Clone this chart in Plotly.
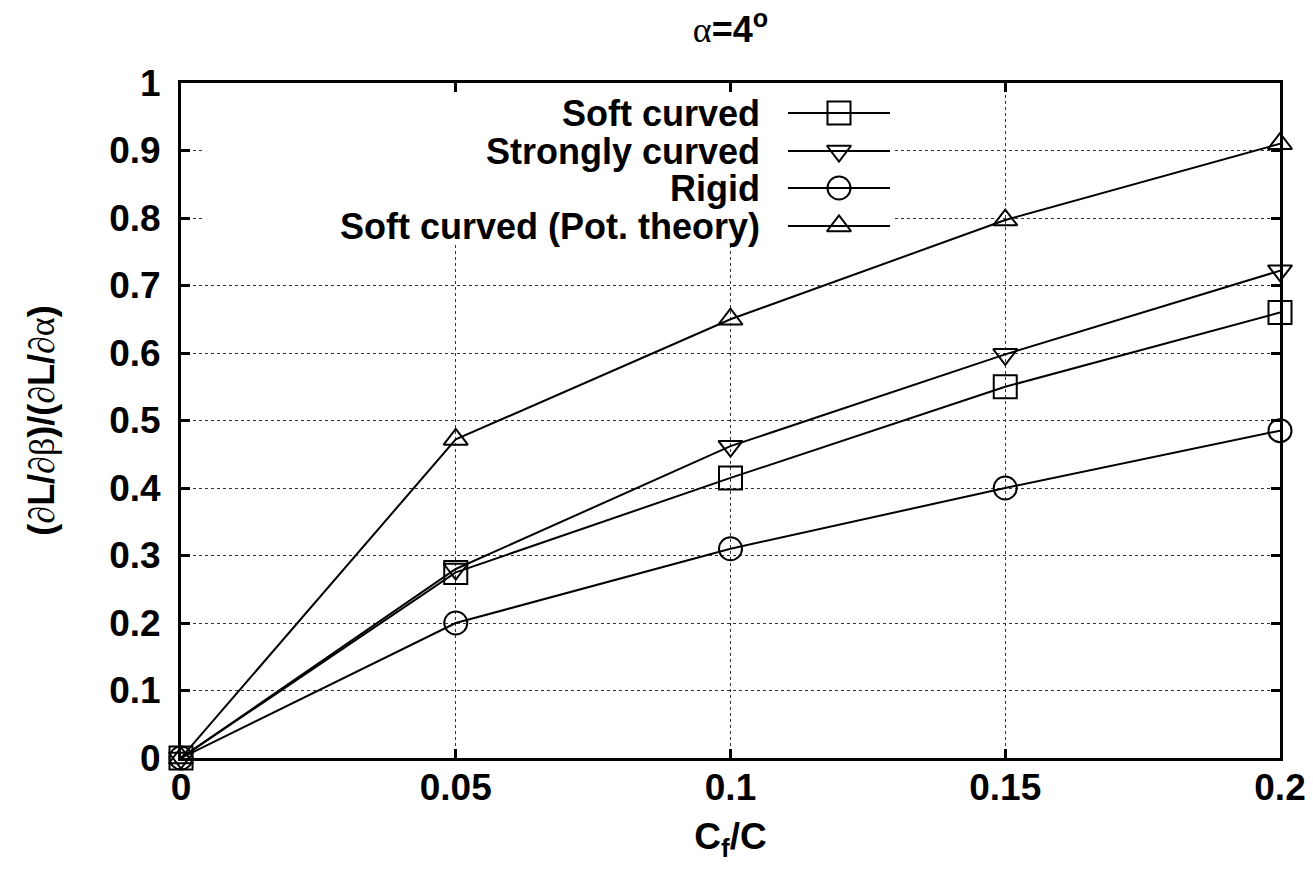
import plotly.graph_objects as go

# Flap chord ratio and lift-derivative ratio for each configuration
cf_c = [0, 0.05, 0.1, 0.15, 0.2]
soft_curved = [0, 0.275, 0.415, 0.55, 0.66]
strongly_curved = [0, 0.28, 0.462, 0.598, 0.722]
rigid = [0, 0.2, 0.31, 0.40, 0.485]
soft_pot_theory = [0, 0.472, 0.65, 0.797, 0.91]

series_names = ["Soft curved", "Strongly curved", "Rigid", "Soft curved (Pot. theory)"]
series_values = [soft_curved, strongly_curved, rigid, soft_pot_theory]
symbols = ["square-open", "triangle-down-open", "circle-open", "triangle-up-open"]
sizes = [23, 21, 23, 21]

SANS = "Liberation Sans, Arial, sans-serif"
SERIF = "Liberation Serif, Times New Roman, serif"
GREEK = f"<span style='font-family:{SERIF};font-weight:normal'>%s</span>"

# plot area in pixels
L, R, T, B = 181, 33, 83, 114
W, H = 1313, 872
PW, PH = W - L - R, H - T - B

fig = go.Figure()

for name, vals, sym, sz in zip(series_names, series_values, symbols, sizes):
    fig.add_trace(go.Scatter(
        x=cf_c, y=vals, mode="lines+markers", name=name, showlegend=False,
        cliponaxis=False,
        line=dict(color="black", width=2),
        marker=dict(symbol=sym, size=sz, color="black", line=dict(width=2, color="black")),
    ))

# opaque key background hiding the grid (pixel-unit overlay axis)
fig.add_trace(go.Scatter(
    x=[24, 711, 711, 24, 24], y=[514, 514, 675, 675, 514], mode="lines",
    xaxis="x2", yaxis="y2", fill="toself", fillcolor="white",
    line=dict(width=0, color="white"), showlegend=False, hoverinfo="skip"))

# key: sample lines with symbols
key_rows = [645, 607, 570, 532]
key_x0, key_x1, key_mid, key_text = 607, 709, 658, 581
for name, sym, sz, ry in zip(series_names, symbols, sizes, key_rows):
    fig.add_trace(go.Scatter(
        x=[key_x0, key_x1], y=[ry, ry], mode="lines", xaxis="x2", yaxis="y2",
        line=dict(color="black", width=2), showlegend=False, hoverinfo="skip"))
    fig.add_trace(go.Scatter(
        x=[key_mid], y=[ry], mode="markers", xaxis="x2", yaxis="y2",
        marker=dict(symbol=sym, size=sz, color="black", line=dict(width=2, color="black")),
        showlegend=False, hoverinfo="skip"))
    fig.add_annotation(x=key_text, y=ry, xref="x2", yref="y2", text=name,
                       showarrow=False, xanchor="right", yanchor="middle",
                       font=dict(family=SANS, size=36, color="black", weight="bold"))

axis_common = dict(
    showline=True, linecolor="black", linewidth=3, mirror="ticks",
    ticks="inside", ticklen=9, tickwidth=3, tickcolor="black",
    showgrid=True, gridcolor="#333333", gridwidth=1.3, griddash="dot",
    zeroline=False, automargin=False,
    tickfont=dict(family=SANS, size=37, color="black", weight="bold"),
)

fig.update_layout(
    width=W, height=H,
    margin=dict(l=L, r=R, t=T, b=B, autoexpand=False),
    paper_bgcolor="white", plot_bgcolor="white",
    font=dict(family=SANS, color="black", weight="bold"),
    title=dict(
        text=(GREEK % "α") + "=4<sup>o</sup>",
        x=(L + PW / 2) / W, xanchor="center", y=0.981, yanchor="top",
        font=dict(family=SANS, size=36, color="black", weight="bold"),
    ),
    xaxis=dict(
        range=[0, 0.2], tickvals=[0, 0.05, 0.1, 0.15, 0.2],
        ticktext=["0", "0.05", "0.1", "0.15", "0.2"],
        ticklabelstandoff=-5,
        title=dict(text="C<sub>f</sub>/C", standoff=16,
                   font=dict(family=SANS, size=37, color="black", weight="bold")),
        **axis_common,
    ),
    yaxis=dict(
        range=[0, 1], tickvals=[0, 0.1, 0.2, 0.3, 0.4, 0.5, 0.6, 0.7, 0.8, 0.9, 1],
        ticktext=["0", "0.1", "0.2", "0.3", "0.4", "0.5", "0.6", "0.7", "0.8", "0.9", "1"],
        ticklabelstandoff=10,
        title=dict(
            text="(" + (GREEK % "∂") + "L/" + (GREEK % "∂β") + ")/(" + (GREEK % "∂") + "L/" + (GREEK % "∂α") + ")",
            standoff=44,
            font=dict(family=SANS, size=36, color="black", weight="bold")),
        **axis_common,
    ),
    xaxis2=dict(range=[0, PW], overlaying="x", visible=False, fixedrange=True),
    yaxis2=dict(range=[0, PH], overlaying="y", visible=False, fixedrange=True),
)

fig.write_html("out.html")
